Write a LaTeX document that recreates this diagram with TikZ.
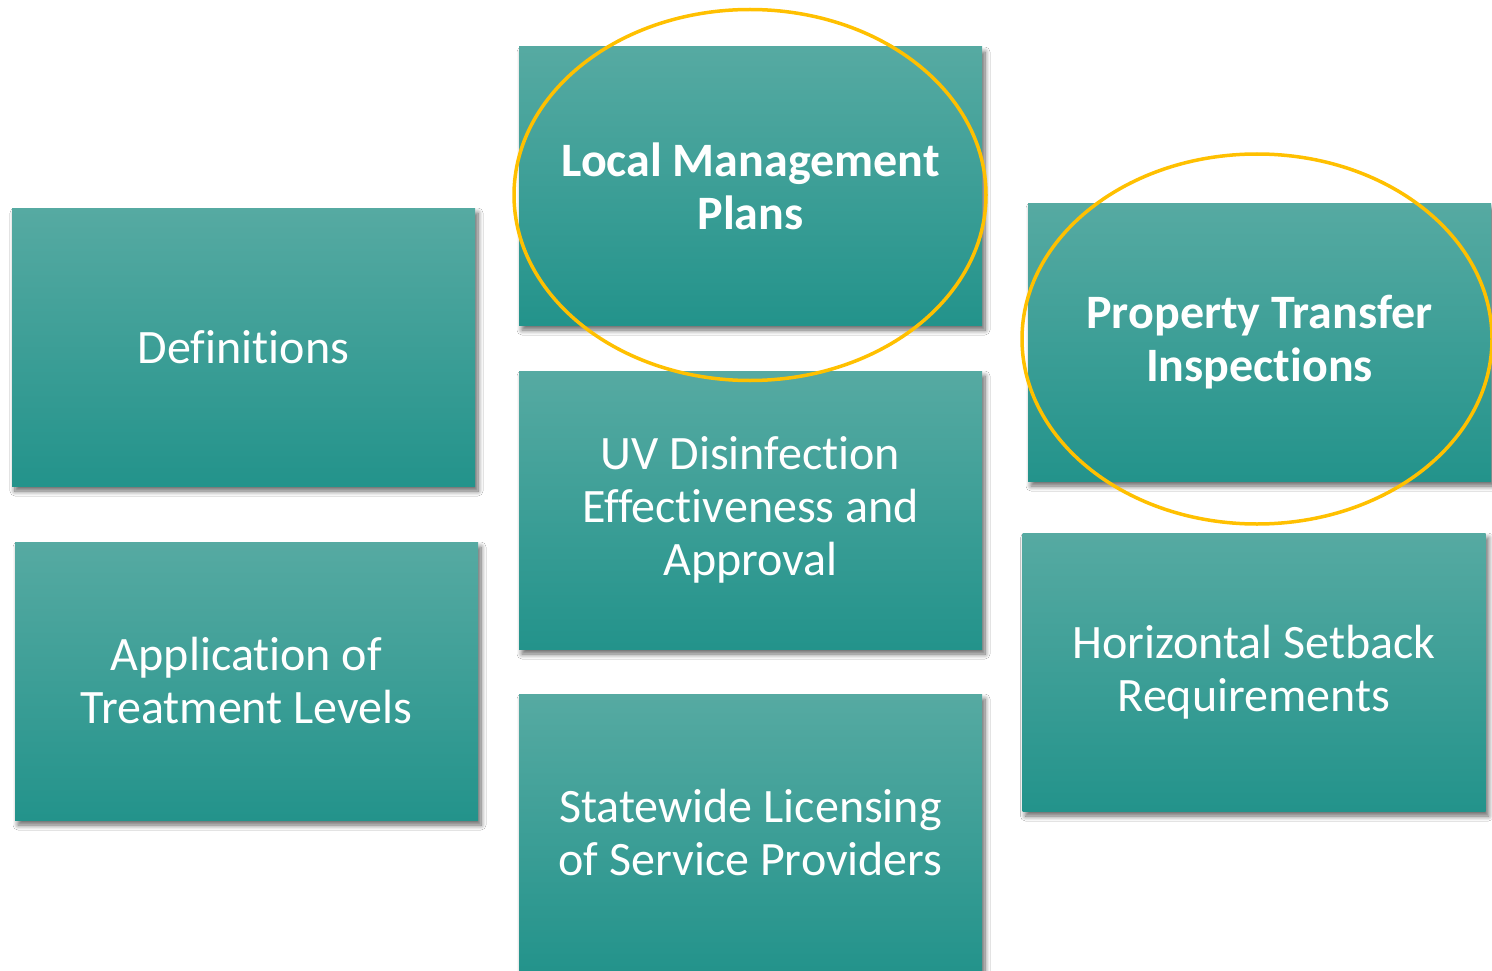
\documentclass[tikz,border=0pt]{standalone}
\usepackage{fontspec}
\setmainfont{Carlito}[Ligatures=CommonOff]
\usetikzlibrary{shapes.geometric,shadows.blur}
\definecolor{tealtop}{HTML}{56AAA2}
\definecolor{tealbot}{HTML}{23938B}
\definecolor{ringgold}{HTML}{FFC000}
\tikzset{
  tealbox/.style={rectangle, minimum width=463pt, minimum height=278pt, inner sep=0pt,
    top color=tealtop, bottom color=tealbot, text=white, align=center,
    font=\fontsize{48}{53}\selectfont,
    blur shadow={shadow xshift=3pt, shadow yshift=-5pt, shadow blur steps=8, shadow blur radius=5pt, shadow opacity=60}},
  ring/.style={ellipse, draw=ringgold, line width=3.5pt, inner sep=0pt, fill=none}
}
\begin{document}
\begin{tikzpicture}[x=1pt,y=-1pt]
\useasboundingbox[fill=white] (0,0) rectangle (1492,971);
\node[tealbox] (defs) at (243.5,347) {Definitions};
\node[tealbox] (app) at (246.5,681) {Application of\\Treatment Levels};
\node[tealbox] (lmp) at (750.5,186) {\bfseries Local Management\\\bfseries Plans};
\node[tealbox] (uv) at (750.5,510) {UV Disinfection\\Effectiveness and\\Approval};
\node[tealbox] (state) at (750.5,833) {Statewide Licensing\\of Service Providers};
\node[tealbox] (pti) at (1259.5,342) {\bfseries Property Transfer\\\bfseries Inspections};
\node[tealbox] (hsr) at (1254,672) {Horizontal Setback\\Requirements};
\node[ring, minimum width=472pt, minimum height=371pt] (ring1) at (750,195) {};
\node[ring, minimum width=470pt, minimum height=370pt] (ring2) at (1257,339) {};
\end{tikzpicture}
\end{document}
